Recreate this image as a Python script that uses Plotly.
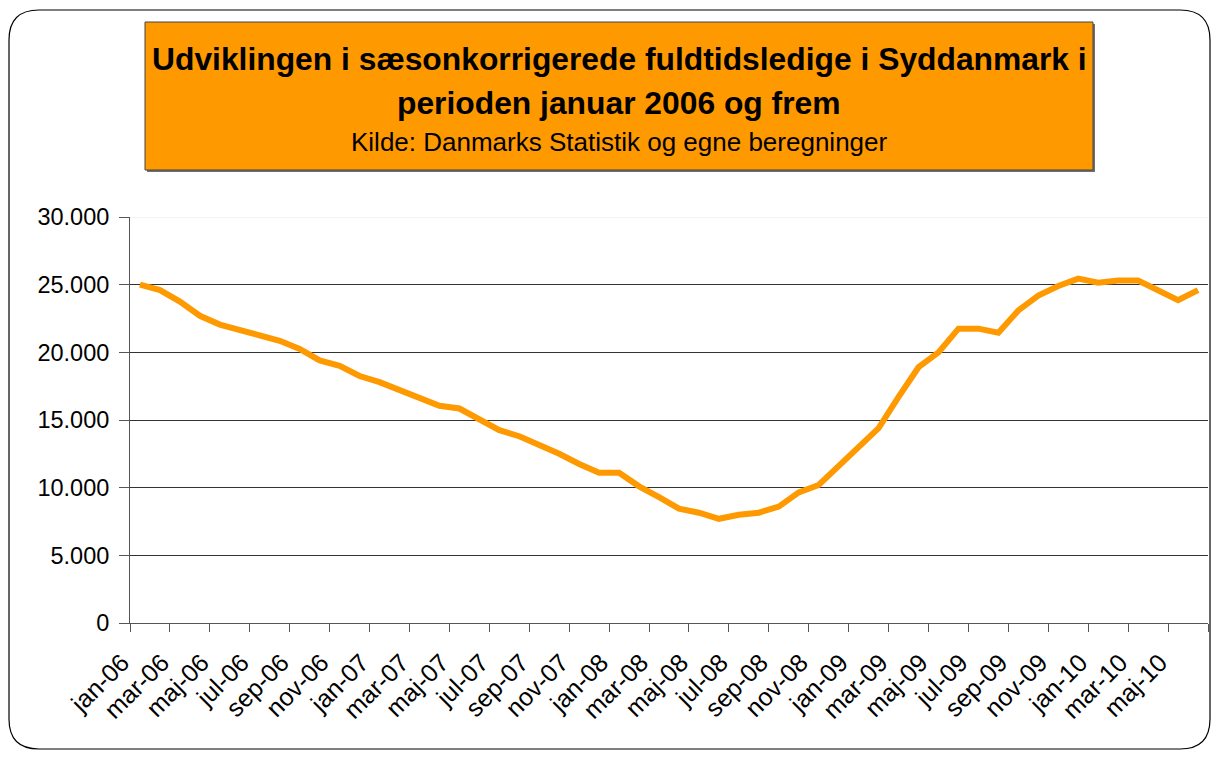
import plotly.graph_objects as go

months = ["jan", "feb", "mar", "apr", "maj", "jun", "jul", "aug", "sep", "okt", "nov", "dec"]
years = ["06", "07", "08", "09", "10"]
categories = [f"{m}-{y}" for y in years for m in months][:54]  # jan-06 .. jun-10

values = [
    25000, 24600, 23750, 22700, 22050, 21650, 21350, 20850, 20250, 19400, 19000, 18250,
    17800, 17250, 16650, 16050, 15850, 15000, 14250, 13800, 13200, 12500, 11750, 11100,
    11100, 10100, 9300, 8450, 8150, 7700, 8000, 8150, 8600, 9650, 10200, 11650,
    13000, 14400, 16700, 18900, 20000, 21750, 21750, 21450, 23100, 24200, 24900, 25450,
    25150, 25300, 25300, 24600, 23850, 24600,
]

y_ticks = [0, 5000, 10000, 15000, 20000, 25000, 30000]
y_labels = ["0", "5.000", "10.000", "15.000", "20.000", "25.000", "30.000"]

title_line1 = "Udviklingen i sæsonkorrigerede fuldtidsledige i Syddanmark i"
title_line2 = "perioden januar 2006 og frem"
subtitle = "Kilde: Danmarks Statistik og egne beregninger"

idx = list(range(len(categories)))
label_idx = idx[::2]

fig = go.Figure()
fig.add_trace(go.Scatter(
    x=idx, y=values, mode="lines",
    line=dict(color="#FF9900", width=6),
    hoverinfo="skip", showlegend=False,
))

FONT = "Liberation Sans, Arial, sans-serif"

# page body has an 8px margin: figure is drawn at (8, 8)
fig.update_layout(
    width=1203, height=742,
    margin=dict(l=122, r=3, t=209, b=127),
    paper_bgcolor="white", plot_bgcolor="white",
    font=dict(family=FONT, color="black"),
    xaxis=dict(
        range=[-0.5, len(categories) - 0.5],
        tickmode="array",
        tickvals=label_idx,
        ticktext=[categories[i] for i in label_idx],
        tickangle=-45,
        ticks="",
        ticklabelshift=-18,
        ticklabelstandoff=14,
        tickfont=dict(size=25, family=FONT, color="black"),
        showgrid=False, zeroline=False,
        showline=True, linecolor="#555555", linewidth=1,
        minor=dict(
            tickmode="array",
            tickvals=[i - 0.5 for i in range(0, len(categories) + 1, 2)],
            ticks="outside", ticklen=8, tickcolor="#555555", tickwidth=1,
            showgrid=False,
        ),
    ),
    yaxis=dict(
        range=[0, 30000],
        tickmode="array", tickvals=y_ticks, ticktext=y_labels,
        ticks="outside", ticklen=10, tickcolor="#555555",
        ticklabelstandoff=5,
        tickfont=dict(size=23.5, family=FONT, color="black"),
        showgrid=True, gridcolor="#333333", gridwidth=1,
        zeroline=False,
        showline=True, linecolor="#555555", linewidth=1,
    ),
)

# light top gridline
fig.add_shape(type="line", xref="paper", yref="y", x0=0, x1=1, y0=30000, y1=30000,
              line=dict(color="#E6E6E6", width=1), layer="above")

# helpers: reference-image pixel -> paper coords (plot area 130..1208 x 217..623)
W, H = 1078.0, 406.0
def px(x):
    return (x - 130) / W
def py(y):
    return (623 - y) / H

# outer rounded frame
x0, x1, y0, y1, r = 9, 1210, 10, 749, 30
path = (
    f"M {px(x0 + r)},{py(y0)} L {px(x1 - r)},{py(y0)} "
    f"Q {px(x1)},{py(y0)} {px(x1)},{py(y0 + r)} "
    f"L {px(x1)},{py(y1 - r)} Q {px(x1)},{py(y1)} {px(x1 - r)},{py(y1)} "
    f"L {px(x0 + r)},{py(y1)} Q {px(x0)},{py(y1)} {px(x0)},{py(y1 - r)} "
    f"L {px(x0)},{py(y0 + r)} Q {px(x0)},{py(y0)} {px(x0 + r)},{py(y0)} Z"
)
fig.add_shape(type="path", xref="paper", yref="paper", path=path,
              line=dict(color="black", width=1.2), fillcolor="rgba(0,0,0,0)", layer="below")

# title box shadow + box
fig.add_shape(type="rect", xref="paper", yref="paper",
              x0=px(147), x1=px(1095), y0=py(24), y1=py(172),
              line=dict(width=0), fillcolor="#707070", layer="below")
fig.add_shape(type="rect", xref="paper", yref="paper",
              x0=px(145), x1=px(1093), y0=py(22), y1=py(170),
              line=dict(color="#444444", width=1), fillcolor="#FF9900", layer="below")

cx = px(619)
fig.add_annotation(x=cx, y=py(59), xref="paper", yref="paper", text=f"<b>{title_line1}</b>",
                   showarrow=False, xanchor="center", yanchor="middle",
                   font=dict(size=31.8, family=FONT, color="black"))
fig.add_annotation(x=cx, y=py(103), xref="paper", yref="paper", text=f"<b>{title_line2}</b>",
                   showarrow=False, xanchor="center", yanchor="middle",
                   font=dict(size=31.8, family=FONT, color="black"))
fig.add_annotation(x=cx, y=py(142), xref="paper", yref="paper", text=subtitle,
                   showarrow=False, xanchor="center", yanchor="middle",
                   font=dict(size=26, family=FONT, color="black"))

fig.write_html("out.html")
